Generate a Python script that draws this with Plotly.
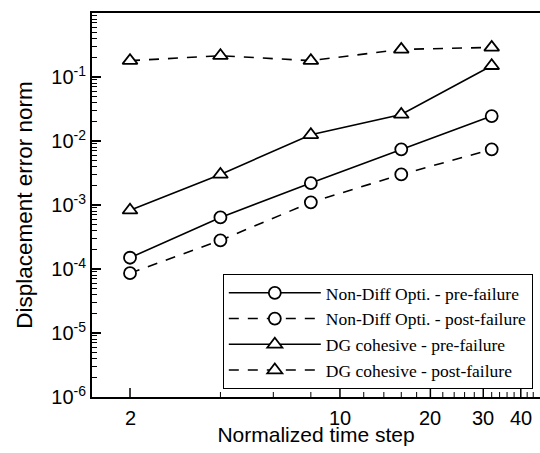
import math
import plotly.graph_objects as go

# data
time_steps = [2, 4, 8, 16, 32]
nondiff_pre = [1.5e-4, 6.4e-4, 2.2e-3, 7.4e-3, 2.45e-2]
nondiff_post = [8.6e-5, 2.8e-4, 1.1e-3, 3.0e-3, 7.4e-3]
dg_pre = [8.3e-4, 3.0e-3, 1.25e-2, 2.6e-2, 1.5e-1]
dg_post = [0.18, 0.215, 0.18, 0.27, 0.29]

series_names = [
    "Non-Diff Opti. - pre-failure",
    "Non-Diff Opti. - post-failure",
    "DG cohesive - pre-failure",
    "DG cohesive - post-failure",
]

x_major = [2, 10, 20, 30, 40]
x_labels = ["2", "10", "20", "30", "40"]
x_minor = [4, 6, 8, 12, 14, 16, 18, 22, 24, 26, 28, 32, 34, 36, 38, 42, 44]
y_tickvals = [1e-6, 1e-5, 1e-4, 1e-3, 1e-2, 1e-1, 1]
y_ticktext = ["10<sup>-6</sup>", "10<sup>-5</sup>", "10<sup>-4</sup>", "10<sup>-3</sup>",
              "10<sup>-2</sup>", "10<sup>-1</sup>", "10<sup>0</sup>"]
y_minor = [m * 10.0 ** e for e in range(-6, 0) for m in range(2, 10)]

X_RANGE = [0.1745, 1.666]
Y_RANGE = [-6, 0]
PLOT_H = 453 - 13 - 56
PX_PER_DECADE = PLOT_H / (Y_RANGE[1] - Y_RANGE[0])

fig = go.Figure()


def tick_segments(vals, length_px):
    y_lo = 10.0 ** Y_RANGE[0]
    y_hi = 10.0 ** (Y_RANGE[0] + length_px / PX_PER_DECADE)
    xs, ys = [], []
    for v in vals:
        xs += [v, v, None]
        ys += [y_lo, y_hi, None]
    return xs, ys


# inward-pointing x-axis ticks, drawn through the axes' own scales
for vals, length, width in [(x_major, 9, 1.5), (x_minor, 5, 1)]:
    tx, ty = tick_segments(vals, length)
    fig.add_trace(go.Scatter(x=tx, y=ty, mode="lines", showlegend=False,
                             hoverinfo="skip", line=dict(color="black", width=width)))

specs = [
    (nondiff_pre, "solid", "circle"),
    (nondiff_post, "10px,9px", "circle"),
    (dg_pre, "solid", "triangle-up"),
    (dg_post, "10px,9px", "triangle-up"),
]
for (vals, dash, sym), name in zip(specs, series_names):
    fig.add_trace(go.Scatter(
        x=time_steps, y=vals, mode="lines+markers", name=name,
        line=dict(color="black", width=1.6, dash=dash),
        marker=dict(symbol=sym, size=12 if sym == "circle" else 13, color="white",
                    line=dict(color="black", width=1.8)),
    ))

# x tick labels
for v, t in zip(x_major, x_labels):
    fig.add_annotation(x=math.log10(v), xref="x", y=0, yref="paper",
                       text=t, showarrow=False, yanchor="top", xanchor="center",
                       yshift=-8, font=dict(size=20, family="Liberation Sans, Arial",
                                            color="black"))

fig.update_layout(
    width=540, height=453,
    margin=dict(l=92, r=0, t=13, b=56),
    paper_bgcolor="white", plot_bgcolor="white",
    font=dict(family="Liberation Sans, Arial", color="black"),
    legend=dict(
        x=0.292, y=0.3205, xanchor="left", yanchor="top",
        bgcolor="white", bordercolor="black", borderwidth=1,
        font=dict(family="Liberation Serif, Times New Roman", size=17.5, color="black"),
        itemwidth=92, tracegroupgap=0,
    ),
    xaxis=dict(
        type="log", range=X_RANGE,
        showline=True, linecolor="black", linewidth=2, mirror=True,
        showgrid=False, zeroline=False,
        ticks="", showticklabels=False,
        title=dict(text="Normalized time step", font=dict(size=21), standoff=29),
    ),
    yaxis=dict(
        type="log", range=Y_RANGE,
        showline=True, linecolor="black", linewidth=2, mirror=False,
        showgrid=False, zeroline=False,
        tickmode="array", tickvals=y_tickvals, ticktext=y_ticktext,
        ticks="inside", ticklen=9, tickwidth=1.5, tickcolor="black",
        tickfont=dict(size=20),
        minor=dict(tickmode="array", tickvals=y_minor, ticks="inside", ticklen=5,
                   tickwidth=1, tickcolor="black", showgrid=False),
        title=dict(text="Displacement error norm", font=dict(size=22.5), standoff=12),
    ),
)

fig.write_html("out.html")
